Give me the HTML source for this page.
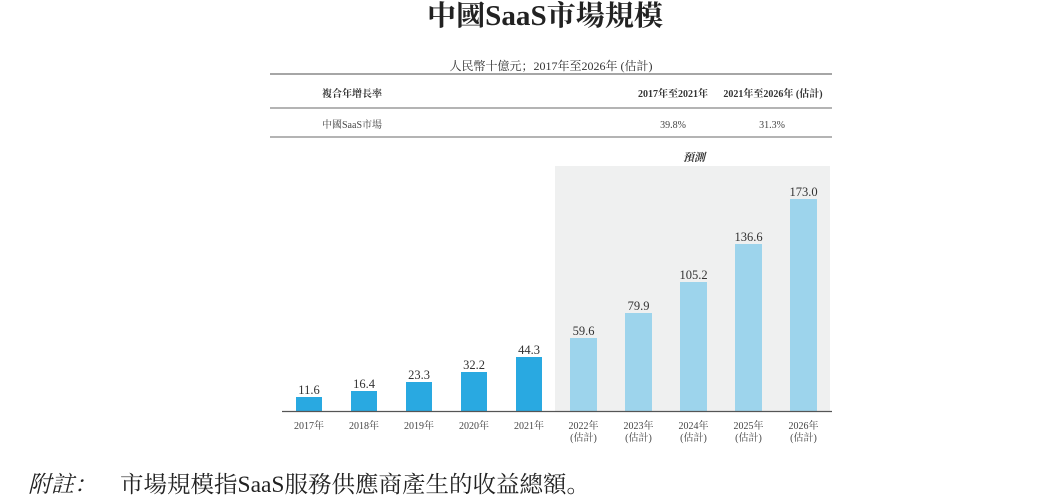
<!DOCTYPE html>
<html><head><meta charset="utf-8"><style>
html,body{margin:0;padding:0;background:#fff;}
svg{display:block;font-family:"Liberation Serif","Noto Serif CJK SC",serif;}
</style></head><body>
<svg width="1054" height="504" viewBox="0 0 1054 504" xmlns="http://www.w3.org/2000/svg">
<text x="427" y="25" textLength="236" lengthAdjust="spacingAndGlyphs" font-size="28" font-weight="bold" fill="#222">中國SaaS市場規模</text>
<text x="551" y="70" text-anchor="middle" font-size="12" fill="#333">人民幣十億元；2017年至2026年 (估計)</text>
<line x1="270" y1="74" x2="832" y2="74" stroke="#888" stroke-width="1.5"/>
<line x1="270" y1="108" x2="832" y2="108" stroke="#888" stroke-width="1.2"/>
<line x1="270" y1="137" x2="832" y2="137" stroke="#888" stroke-width="1.2"/>
<g font-size="10" font-weight="bold" fill="#333">
<text x="322" y="97">複合年增長率</text>
<text x="673" y="97" text-anchor="middle">2017年至2021年</text>
<text x="773" y="97" text-anchor="middle">2021年至2026年 (估計)</text>
</g>
<g font-size="10" fill="#444">
<text x="322" y="128">中國SaaS市場</text>
<text x="673" y="128" text-anchor="middle">39.8%</text>
<text x="772" y="128" text-anchor="middle">31.3%</text>
</g>
<text x="694" y="161" text-anchor="middle" font-size="11" font-style="italic" font-weight="bold" fill="#333">預測</text>
<rect x="555" y="166" width="275" height="245" fill="#eff0f0"/>
<g fill="#29a9e1">
<rect x="296" y="397" width="26" height="14"/>
<rect x="351" y="391" width="26" height="20"/>
<rect x="406" y="382" width="26" height="29"/>
<rect x="461" y="372" width="26" height="39"/>
<rect x="516" y="357" width="26" height="54"/>
</g>
<g fill="#9dd4ec">
<rect x="570" y="338" width="27" height="73"/>
<rect x="625" y="313" width="27" height="98"/>
<rect x="680" y="282" width="27" height="129"/>
<rect x="735" y="244" width="27" height="167"/>
<rect x="790" y="199" width="27" height="212"/>
</g>
<line x1="282" y1="411.5" x2="832" y2="411.5" stroke="#555" stroke-width="1.2"/>
<g font-size="12.5" fill="#333" text-anchor="middle">
<text x="309" y="394">11.6</text>
<text x="364" y="388">16.4</text>
<text x="419" y="379">23.3</text>
<text x="474" y="369">32.2</text>
<text x="529" y="354">44.3</text>
<text x="583.5" y="335">59.6</text>
<text x="638.5" y="310">79.9</text>
<text x="693.5" y="279">105.2</text>
<text x="748.5" y="241">136.6</text>
<text x="803.5" y="196">173.0</text>
</g>
<g font-size="10" fill="#444" text-anchor="middle">
<text x="309" y="429">2017年</text>
<text x="364" y="429">2018年</text>
<text x="419" y="429">2019年</text>
<text x="474" y="429">2020年</text>
<text x="529" y="429">2021年</text>
<text x="583.5" y="429">2022年</text><text x="583.5" y="441">(估計)</text>
<text x="638.5" y="429">2023年</text><text x="638.5" y="441">(估計)</text>
<text x="693.5" y="429">2024年</text><text x="693.5" y="441">(估計)</text>
<text x="748.5" y="429">2025年</text><text x="748.5" y="441">(估計)</text>
<text x="803.5" y="429">2026年</text><text x="803.5" y="441">(估計)</text>
</g>
<text x="28" y="492" font-size="23" font-style="italic" fill="#222">附註：</text>
<text x="120" y="492" textLength="470" lengthAdjust="spacingAndGlyphs" font-size="23" fill="#222">市場規模指SaaS服務供應商產生的收益總額。</text>
</svg>
</body></html>
